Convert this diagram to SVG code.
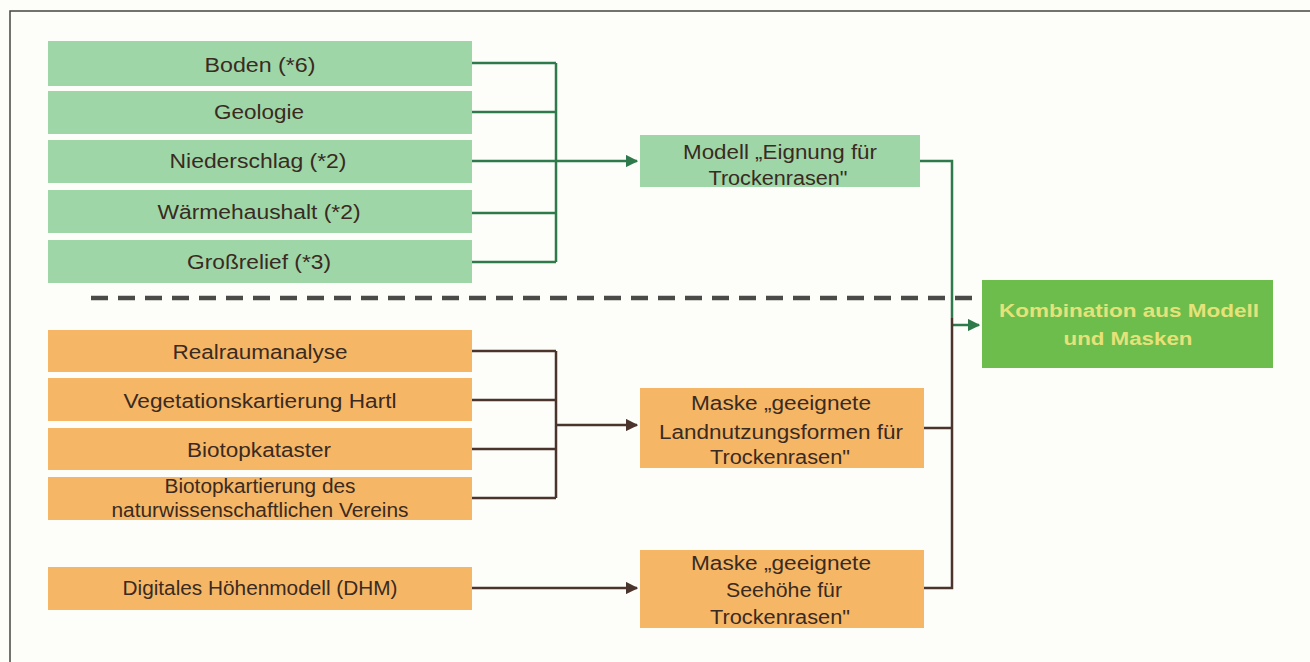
<svg xmlns="http://www.w3.org/2000/svg" width="1310" height="662" viewBox="0 0 1310 662">
<defs>
<style>
text{font-family:"Liberation Sans",Arial,sans-serif;font-size:20px;fill:#3a2a22;text-anchor:middle}
.g{fill:#9ed6a8}
.o{fill:#f5b766}
.gl{stroke:#2f7a4a;stroke-width:2.5;fill:none}
.bl{stroke:#4a342c;stroke-width:2.5;fill:none}
.comb{font-size:18px;fill:#e6e27a;font-weight:bold}
</style>
<marker id="ag" viewBox="0 0 10 10" refX="9" refY="5" markerWidth="5" markerHeight="5" orient="auto"><path d="M0,0L10,5L0,10z" fill="#2f7a4a"/></marker>
<marker id="ab" viewBox="0 0 10 10" refX="9" refY="5" markerWidth="5" markerHeight="5" orient="auto"><path d="M0,0L10,5L0,10z" fill="#4a342c"/></marker>
</defs>
<rect width="1310" height="662" fill="#fdfdf9"/>
<path d="M10,662V11H1310" fill="none" stroke="#444" stroke-width="1.5"/>

<g id="boden"><rect class="g" x="48" y="41" width="424" height="45"/><text x="260" y="72" textLength="111" lengthAdjust="spacingAndGlyphs">Boden (*6)</text></g>
<g id="geologie"><rect class="g" x="48" y="91" width="424" height="43"/><text x="259" y="119" textLength="90" lengthAdjust="spacingAndGlyphs">Geologie</text></g>
<g id="niederschlag"><rect class="g" x="48" y="140" width="424" height="43"/><text x="258" y="168" textLength="177" lengthAdjust="spacingAndGlyphs">Niederschlag (*2)</text></g>
<g id="waerme"><rect class="g" x="48" y="190" width="424" height="43"/><text x="259" y="219" textLength="203" lengthAdjust="spacingAndGlyphs">Wärmehaushalt (*2)</text></g>
<g id="grossrelief"><rect class="g" x="48" y="240" width="424" height="43"/><text x="259" y="269" textLength="144" lengthAdjust="spacingAndGlyphs">Großrelief (*3)</text></g>

<g id="modell"><rect class="g" x="640" y="135" width="280" height="52"/><text x="780" y="159" textLength="194" lengthAdjust="spacingAndGlyphs">Modell „Eignung für</text><text x="778" y="185" textLength="139" lengthAdjust="spacingAndGlyphs">Trockenrasen"</text></g>

<g id="kombination"><rect x="982" y="280" width="291" height="88" fill="#6cbd4c"/><text class="comb" x="1129" y="317" textLength="260" lengthAdjust="spacingAndGlyphs">Kombination aus Modell</text><text class="comb" x="1128" y="345" textLength="129" lengthAdjust="spacingAndGlyphs">und Masken</text></g>

<g id="realraum"><rect class="o" x="48" y="330" width="424" height="42"/><text x="260" y="359" textLength="175" lengthAdjust="spacingAndGlyphs">Realraumanalyse</text></g>
<g id="vegetation"><rect class="o" x="48" y="378" width="424" height="43"/><text x="260" y="408" textLength="273" lengthAdjust="spacingAndGlyphs">Vegetationskartierung Hartl</text></g>
<g id="biotopkataster"><rect class="o" x="48" y="428" width="424" height="42"/><text x="259" y="457" textLength="144" lengthAdjust="spacingAndGlyphs">Biotopkataster</text></g>
<g id="biotopkartierung"><rect class="o" x="48" y="477" width="424" height="43"/><text x="260" y="493" textLength="191" lengthAdjust="spacingAndGlyphs">Biotopkartierung des</text><text x="260" y="517" textLength="297" lengthAdjust="spacingAndGlyphs">naturwissenschaftlichen Vereins</text></g>
<g id="dhm"><rect class="o" x="48" y="567" width="424" height="43"/><text x="260" y="595" textLength="275" lengthAdjust="spacingAndGlyphs">Digitales Höhenmodell (DHM)</text></g>

<g id="maske1"><rect class="o" x="640" y="388" width="284" height="80"/><text x="781" y="410" textLength="180" lengthAdjust="spacingAndGlyphs">Maske „geeignete</text><text x="781" y="439" textLength="244" lengthAdjust="spacingAndGlyphs">Landnutzungsformen für</text><text x="780" y="464" textLength="140" lengthAdjust="spacingAndGlyphs">Trockenrasen"</text></g>
<g id="maske2"><rect class="o" x="640" y="550" width="284" height="78"/><text x="781" y="570" textLength="180" lengthAdjust="spacingAndGlyphs">Maske „geeignete</text><text x="784" y="597" textLength="116" lengthAdjust="spacingAndGlyphs">Seehöhe für</text><text x="780" y="624" textLength="140" lengthAdjust="spacingAndGlyphs">Trockenrasen"</text></g>

<g id="connectors">
<path class="gl" d="M472,63H556M472,112H556M472,213H556M472,262H556M556,63V262"/>
<path class="gl" d="M472,161H637" marker-end="url(#ag)"/>
<path class="gl" d="M920,161H952V318"/>
<path class="gl" d="M952,325H979" marker-end="url(#ag)"/>
<path class="bl" d="M472,351H556M472,400H556M472,449H556M472,498H556M556,351V498"/>
<path class="bl" d="M556,425H637" marker-end="url(#ab)"/>
<path class="bl" d="M472,588H637" marker-end="url(#ab)"/>
<path class="bl" d="M924,428H952M924,588H952V318"/>
<path d="M91,298H982" stroke="#4a4a48" stroke-width="4.5" stroke-dasharray="17 10" fill="none"/>
</g>
</svg>
